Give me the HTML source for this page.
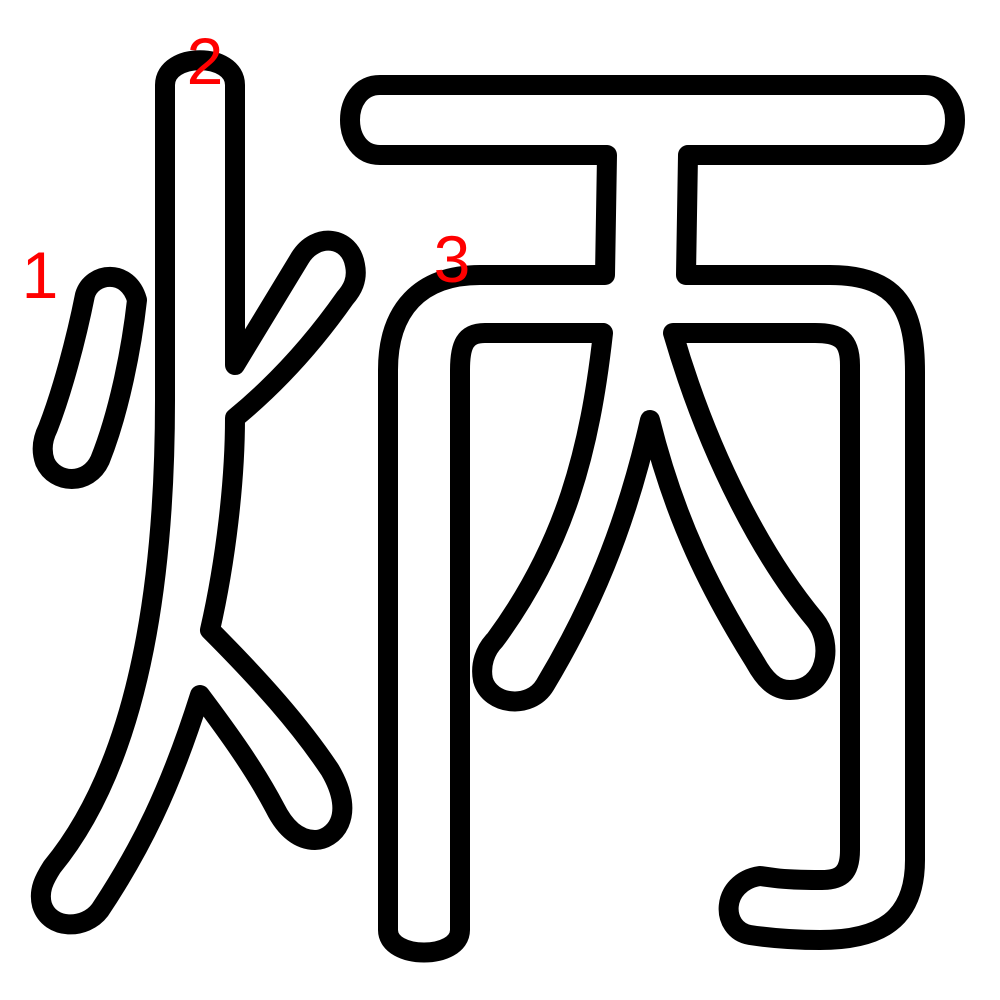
<!DOCTYPE html>
<html>
<head>
<meta charset="utf-8">
<style>
html,body{margin:0;padding:0;background:#fff;}
svg{display:block;}
</style>
</head>
<body>
<svg width="1000" height="1000" viewBox="0 0 1000 1000">
  <g fill="#fff" stroke="#000" stroke-width="20" stroke-linejoin="round">
    <path d="M85,295 C92,272 128,268 137,300 C132,345 120,410 100,460 C88,486 55,484 45,462 C40,448 44,436 48,428 C62,392 76,340 85,295 Z"/>
    <path d="M165,85 C165,52 235,52 235,85 L235,365 L300,258 C316,232 350,236 355,265 C358,280 352,290 345,298 C312,345 275,385 235,418 C235,480 226,560 210,630 C260,680 300,725 330,770 C358,818 332,840 315,840 C300,840 286,830 275,808 C255,770 230,735 200,695 C170,790 140,850 100,910 C85,930 50,930 42,905 C38,890 45,878 52,867 C140,760 165,580 165,400 Z"/>
    <path d="M380,85 L925,85 C965,85 965,155 925,155 L688,155 L686,275 L830,275 C900,275 915,312 915,372 L915,860 C915,920 880,940 820,940 C790,940 770,938 750,935 C720,930 720,882 760,876 L775,878 C790,880 810,880 822,880 C842,880 850,872 850,850 L850,365 C850,340 840,333 815,333 L673,333 C710,460 765,560 815,620 C835,645 826,690 790,690 C775,690 765,680 755,662 C710,590 675,520 650,420 C625,530 590,610 545,685 C530,710 490,705 483,680 C480,665 485,650 495,640 C565,545 590,450 603,333 L485,333 C465,333 460,345 460,370 L460,930 C460,960 388,960 388,930 L388,370 C388,310 420,275 480,275 L605,275 L607,155 L380,155 C340,155 340,85 380,85 Z"/>
  </g>
  <g fill="#ff0000" font-family="Liberation Sans, sans-serif" font-size="66" text-anchor="middle">
    <text x="40" y="298">1</text>
    <text x="205" y="84">2</text>
    <text x="452" y="282">3</text>
  </g>
</svg>
</body>
</html>
